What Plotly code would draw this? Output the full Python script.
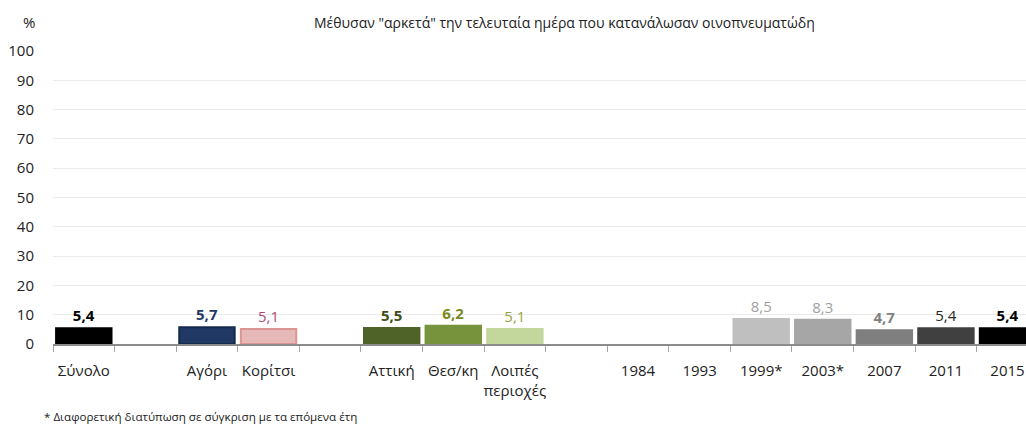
import plotly.graph_objects as go

categories = ["Σύνολο", " ", "Αγόρι", "Κορίτσι", "  ", "Αττική", "Θεσ/κη", "Λοιπές<br>περιοχές", "   ",
              "1984", "1993", "1999*", "2003*", "2007", "2011", "2015"]
values = [5.4, None, 5.7, 5.1, None, 5.5, 6.2, 5.1, None, None, None, 8.5, 8.3, 4.7, 5.4, 5.4]
bar_colors = ["#000000", "#ffffff", "#1f3864", "#e6b8b7", "#ffffff", "#4f6228", "#77933c", "#c3d69b", "#ffffff",
              "#ffffff", "#ffffff", "#bfbfbf", "#a6a6a6", "#7f7f7f", "#404040", "#000000"]
line_colors = ["#000000", "#ffffff", "#142a4c", "#d99694", "#ffffff", "#4f6228", "#77933c", "#c3d69b", "#ffffff",
               "#ffffff", "#ffffff", "#bfbfbf", "#a6a6a6", "#7f7f7f", "#404040", "#000000"]
label_colors = ["#000000", "#000", "#1f3864", "#b04a74", "#000", "#3f4f1c", "#7b8a1c", "#9aa640", "#000",
                "#000", "#000", "#a0a0a0", "#a0a0a0", "#808080", "#262626", "#000000"]
label_bold = [True, False, True, False, False, True, True, False, False, False, False, False, False, True, False, True]
y_ticks = [0, 10, 20, 30, 40, 50, 60, 70, 80, 90, 100]

title_text = 'Μέθυσαν "αρκετά" την τελευταία ημέρα που κατανάλωσαν οινοπνευματώδη'
footnote = "* Διαφορετική διατύπωση σε σύγκριση με τα επόμενα έτη"

texts = []
for v, b in zip(values, label_bold):
    if v is None:
        texts.append("")
    else:
        s = f"{v:.1f}".replace(".", ",")
        texts.append(f"<b>{s}</b>" if b else s)

FONT = "Open Sans"
W, H = 1026, 428
L, R, T, B = 53, 0, 51, 428 - 344

fig = go.Figure()
fig.add_trace(go.Bar(
    x=categories, y=values,
    marker=dict(color=bar_colors, line=dict(color=line_colors, width=2)),
    width=0.9,
    text=texts, textposition="outside", cliponaxis=False,
    textfont=dict(family=FONT, size=15, color=label_colors),
    hoverinfo="skip",
))

def px_to_paper_x(px):
    return (px - L) / (W - L - R)

def px_to_paper_y(py):
    return 1 - (py - T) / (H - T - B)

fig.update_layout(
    width=W, height=H,
    margin=dict(l=L, r=R, t=T, b=B, pad=0),
    plot_bgcolor="white", paper_bgcolor="white",
    showlegend=False,
    font=dict(family=FONT, size=15, color="#222222"),
    xaxis=dict(
        type="category",
        categoryorder="array", categoryarray=categories,
        range=[-0.5, 15.3],
        tickangle=0, automargin=False,
        tickson="boundaries", ticks="outside", ticklen=6, tickcolor="#a6a6a6", tickwidth=1,
        showline=True, linecolor="#8c8c8c", linewidth=2,
        showgrid=False, zeroline=False,
        tickfont=dict(family=FONT, size=15, color="#222222"),
        ticklabelstandoff=12,
    ),
    yaxis=dict(
        range=[0, 100], tickvals=y_ticks, automargin=False,
        showgrid=True, gridcolor="#ebebeb", gridwidth=1,
        zeroline=False, showline=False, ticks="",
        tickfont=dict(family=FONT, size=15, color="#222222"),
        ticklabelstandoff=18,
    ),
    annotations=[
        dict(text="%", x=px_to_paper_x(29), y=px_to_paper_y(22), xref="paper", yref="paper",
             showarrow=False, xanchor="center", yanchor="middle", font=dict(family=FONT, size=15, color="#222222")),
        dict(text=title_text, x=px_to_paper_x(564), y=px_to_paper_y(22), xref="paper", yref="paper",
             showarrow=False, xanchor="center", yanchor="middle", font=dict(family=FONT, size=14, color="#222222")),
        dict(text=footnote, x=px_to_paper_x(42), y=px_to_paper_y(416), xref="paper", yref="paper",
             showarrow=False, xanchor="left", yanchor="middle", font=dict(family=FONT, size=11.6, color="#222222")),
    ],
)

fig.write_html("out.html", config={"displayModeBar": False},
               post_script="document.body.style.margin='0';document.body.style.overflow='hidden';")
